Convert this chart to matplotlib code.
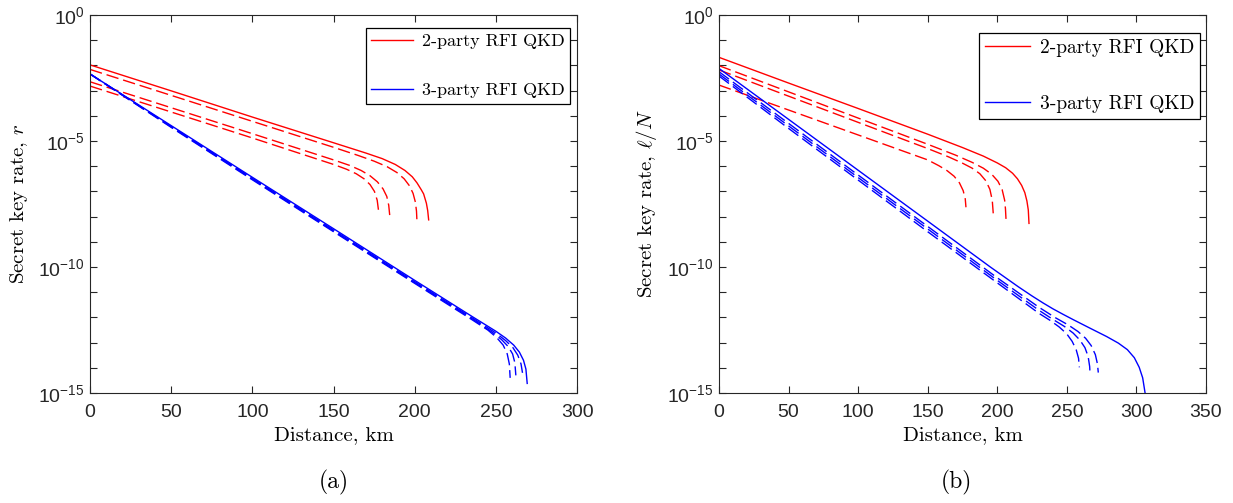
#Two panels of secret key rate against distance, RFI QKD.
import numpy as np
import matplotlib
matplotlib.use("Agg")
import matplotlib.pyplot as plt

#Panel (a): distance in km and log10 of the rate r.
a_red_km = [
    [0, 50, 100, 150, 170, 180, 188, 194, 198.5, 201.4, 204, 205.5, 207.2, 208.0, 208.6],
    [0, 50, 100, 150, 165, 175, 183, 189, 193.5, 196.8, 199, 200.4, 201.1, 201.4],
    [0, 50, 100, 150, 160, 167, 172.5, 177, 180.5, 182.8, 184, 184.6],
    [0, 50, 100, 150, 158, 164, 168.8, 172.5, 175.2, 176.9, 177.8],
]
a_red_log = [
    [-1.98, -3.01, -4.05, -5.07, -5.48, -5.7, -5.93, -6.17, -6.42, -6.66, -6.93, -7.1,
     -7.47, -7.76, -8.13],
    [-2.16, -3.19, -4.22, -5.25, -5.57, -5.8, -6.02, -6.25, -6.5, -6.78, -7.08, -7.42,
     -7.78, -8.2],
    [-2.65, -3.68, -4.71, -5.75, -5.97, -6.17, -6.38, -6.62, -6.9, -7.2, -7.55, -7.94],
    [-2.82, -3.85, -4.88, -5.93, -6.12, -6.3, -6.5, -6.73, -7.0, -7.35, -7.8],
]
a_blue_km = [
    [0, 50, 100, 150, 200, 235, 250, 256, 261, 264.5, 267, 268.5, 269.3],
    [0, 50, 100, 150, 200, 235, 250, 256, 260.5, 263.5, 265.5, 266.4],
    [0, 50, 100, 150, 200, 235, 248, 253.5, 257.5, 260.3, 261.7, 262.3],
    [0, 50, 100, 150, 200, 235, 245, 250.5, 254.5, 257, 258.3, 258.8],
]
a_blue_log = [
    [-2.34, -4.39, -6.44, -8.48, -10.53, -11.95, -12.55, -12.82, -13.1, -13.38, -13.7,
     -14.05, -14.62],
    [-2.34, -4.42, -6.48, -8.53, -10.58, -12.0, -12.62, -12.92, -13.2, -13.5, -13.85, -14.2],
    [-2.34, -4.44, -6.51, -8.57, -10.62, -12.04, -12.6, -12.88, -13.15, -13.45, -13.8, -14.3],
    [-2.34, -4.46, -6.54, -8.6, -10.65, -12.08, -12.5, -12.8, -13.1, -13.45, -13.85, -14.4],
]

#Panel (b): distance in km and log10 of l/N.
b_red_km = [
    [0, 50, 100, 150, 175, 190, 200, 206, 211, 214.5, 217.5, 219.8, 221.3, 222.3, 222.8],
    [0, 50, 100, 150, 170, 182, 190, 196, 200.5, 203.5, 205.3, 205.9, 206.3],
    [0, 50, 100, 150, 165, 175, 182, 187.5, 191.8, 194.7, 196.4, 197.1],
    [0, 50, 100, 150, 158, 164, 169, 172.8, 175.5, 177, 177.5],
]
b_red_log = [
    [-1.68, -2.70, -3.71, -4.73, -5.26, -5.6, -5.87, -6.06, -6.28, -6.5, -6.76, -7.05,
     -7.38, -7.74, -8.27],
    [-2.01, -3.05, -4.09, -5.13, -5.56, -5.85, -6.08, -6.32, -6.6, -6.93, -7.35, -7.7, -8.13],
    [-2.18, -3.22, -4.26, -5.3, -5.63, -5.88, -6.08, -6.3, -6.58, -6.92, -7.35, -7.87],
    [-2.78, -3.77, -4.76, -5.75, -5.98, -6.18, -6.4, -6.66, -6.97, -7.3, -7.63],
]
b_blue_km = [
    [0, 50, 100, 150, 195, 215, 225, 233, 240, 247, 254.6, 266, 278.6, 287, 293.5, 298.5,
     302, 304.5, 306.2],
    [0, 50, 100, 150, 200, 230, 242, 251, 258, 263.5, 267.5, 270.5, 272, 272.6],
    [0, 50, 100, 150, 200, 230, 240, 248, 254.5, 259.4, 263, 265.3, 266.4, 266.7],
    [0, 50, 100, 150, 200, 230, 238, 244.5, 249.9, 253.8, 256.7, 258.4, 259],
]
b_blue_log = [
    [-2.12, -4.14, -6.16, -8.18, -10.0, -10.78, -11.15, -11.43, -11.66, -11.87, -12.09,
     -12.41, -12.76, -13.02, -13.28, -13.6, -13.98, -14.4, -14.99],
    [-2.25, -4.3, -6.35, -8.39, -10.43, -11.6, -12.02, -12.3, -12.56, -12.83, -13.12,
     -13.48, -13.85, -14.19],
    [-2.34, -4.4, -6.45, -8.49, -10.53, -11.72, -12.08, -12.35, -12.62, -12.9, -13.2,
     -13.55, -13.95, -14.29],
    [-2.42, -4.5, -6.55, -8.6, -10.63, -11.84, -12.12, -12.38, -12.65, -12.95, -13.28,
     -13.62, -13.98],
]

legend_labels = ["2-party RFI QKD", "3-party RFI QKD"]
x_label = "Distance, km"
y_labels = [r"Secret key rate, $r$", r"Secret key rate, $\ell/N$"]
panel_tags = ["(a)", "(b)"]
x_max = [300, 350]

plt.rcParams["mathtext.fontset"] = "custom"
plt.rcParams["mathtext.rm"] = "Liberation Sans"
plt.rcParams["mathtext.it"] = "Liberation Sans:italic"
plt.rcParams["font.family"] = ["Liberation Sans", "DejaVu Sans"]

AX_COLOR = "#262626"
DASH = (0, (9, 3.5))


def draw_panel(ax, red_km, red_log, blue_km, blue_log, xmax, ylabel,
               legend_box, legend_size, legend_gap):
    """Plot one panel: solid line first, then the three dashed ones."""
    handles = []
    for km, lg, color in [(red_km, red_log, "red"), (blue_km, blue_log, "blue")]:
        for i in range(len(km)):
            style = "-" if i == 0 else DASH
            line, = ax.plot(km[i], 10.0 ** np.array(lg[i]), color=color,
                            linestyle=style, linewidth=1.0)
            if i == 0:
                handles.append(line)

    ax.set_yscale("log")
    ax.set_xlim(0, xmax)
    ax.set_ylim(1e-15, 1e0)

    #Ticks every decade, labels every fifth one.
    decades = np.arange(-15, 1)
    ax.set_yticks(10.0 ** decades)
    ax.set_yticklabels([r"$10^{%d}$" % d if d % 5 == 0 else "" for d in decades])
    ax.minorticks_off()
    ax.set_xticks(np.arange(0, xmax + 1, 50))

    ax.tick_params(direction="in", length=5, width=0.8, top=True, right=True,
                   labelsize=14, colors=AX_COLOR)
    ax.tick_params(axis="x", pad=8)
    ax.tick_params(axis="y", pad=4)
    for spine in ax.spines.values():
        spine.set_color(AX_COLOR)
        spine.set_linewidth(0.8)

    ax.set_xlabel(x_label, family="cmr10", fontsize=15, labelpad=4)
    ax.set_ylabel(ylabel, family="cmr10", fontsize=15, math_fontfamily="cm", labelpad=6)

    leg = ax.legend(handles, legend_labels, loc="upper right",
                    bbox_to_anchor=legend_box, bbox_transform=ax.figure.transFigure,
                    prop={"family": "cmr10", "size": legend_size},
                    fancybox=False, framealpha=1, edgecolor="black",
                    handlelength=2.3, handletextpad=0.5, labelspacing=legend_gap,
                    borderpad=0.3, borderaxespad=0)
    leg.get_frame().set_linewidth(0.9)


def main():
    """Build both panels and save the figure."""
    fig = plt.figure(figsize=(12.33, 5.03), dpi=100)
    ax_a = fig.add_axes([0.0730, 0.2187, 0.3950, 0.7515])
    ax_b = fig.add_axes([0.5831, 0.2187, 0.3950, 0.7515])

    draw_panel(ax_a, a_red_km, a_red_log, a_blue_km, a_blue_log, x_max[0], y_labels[0],
               (0.4623, 0.9443), 13, 1.85)
    draw_panel(ax_b, b_red_km, b_red_log, b_blue_km, b_blue_log, x_max[1], y_labels[1],
               (0.9732, 0.9344), 14, 1.95)

    #Sub-figure tags under each panel.
    fig.text(0.2705, 0.028, panel_tags[0], family="cmr10", fontsize=17, ha="center")
    fig.text(0.7756, 0.028, panel_tags[1], family="cmr10", fontsize=17, ha="center")

    fig.savefig("out.png", dpi=100)


if __name__ == "__main__":
    main()
